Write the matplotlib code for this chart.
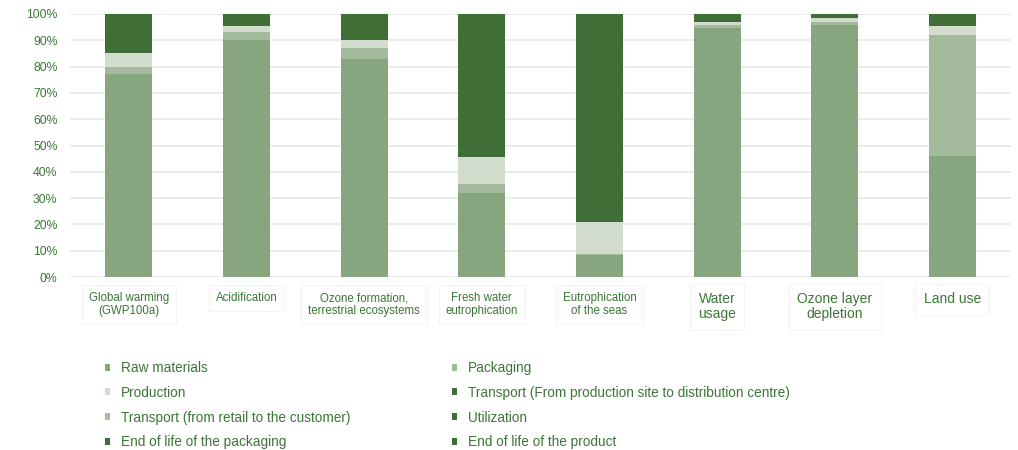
import numpy as np
import matplotlib.pyplot as plt

plt.rcParams['font.family'] = ['Liberation Sans', 'DejaVu Sans']

# categorias (eje x)
categorias = ['Global warming\n(GWP100a)', 'Acidification',
              'Ozone formation,\nterrestrial ecosystems', 'Fresh water\neutrophication',
              'Eutrophication\nof the seas', 'Water\nusage', 'Ozone layer\ndepletion', 'Land use']

# series (%), de abajo hacia arriba
raw_materials = [77, 90, 83, 32, 8.5, 94.5, 96, 46]
packaging = [3, 3, 4, 3.5, 0.3, 1.5, 1, 46]
production = [5, 2.5, 3, 10, 12, 1, 1.5, 3.5]
transport_dist = [2, 0.5, 1.5, 0.5, 0, 0.5, 0.3, 0.5]
transport_retail = [0, 0, 0, 0, 0, 0, 0, 0]
utilization = [0, 0, 0, 0, 0, 0, 0, 0]
eol_packaging = [0.5, 0, 0, 0, 0, 0, 0, 0]
eol_product = [12.5, 4, 8.5, 54, 79.2, 2.5, 1.2, 4]

nombres = ['Raw materials', 'Packaging', 'Production',
           'Transport (From production site to distribution centre)',
           'Transport (from retail to the customer)', 'Utilization',
           'End of life of the packaging', 'End of life of the product']
series = [raw_materials, packaging, production, transport_dist,
          transport_retail, utilization, eol_packaging, eol_product]
colores = ['#87a57f', '#a3ba9c', '#d1dccd', '#3f6f38',
           '#a9bba4', '#3f6f38', '#3f6f38', '#3f6e37']

texto = '#3c7637'

fig = plt.figure(figsize=(10.18, 4.5), dpi=100)
ax = fig.add_axes([0.0688, 0.3844, 0.9245, 0.5845])

x = np.arange(len(categorias))
base = np.zeros(len(categorias))
barras = []
for nombre, valores, color in zip(nombres, series, colores):
    b = ax.bar(x, valores, bottom=base, width=0.4, color=color, label=nombre,
               edgecolor='none', zorder=3)
    barras.append(b)
    base = base + np.array(valores)

ax.set_xlim(-0.5, len(categorias) - 0.5)
ax.set_ylim(0, 100)
ax.set_yticks(np.arange(0, 101, 10))
ax.set_yticklabels([f'{v}%' for v in range(0, 101, 10)])
ax.yaxis.grid(True, color='#e4ebe2', linewidth=1.2, zorder=0)
ax.set_axisbelow(True)
for s in ax.spines.values():
    s.set_visible(False)
ax.tick_params(axis='y', length=0, pad=9, labelsize=8.8, labelcolor=texto)

ax.set_xticks(x)
ax.set_xticklabels(categorias)
ax.tick_params(axis='x', length=0, pad=11, labelcolor=texto)
tamanos = [8.3, 8.3, 8.3, 8.3, 8.3, 10, 10, 10]
for lbl, t in zip(ax.get_xticklabels(), tamanos):
    lbl.set_fontsize(t)
    lbl.set_va('top')
    lbl.set_linespacing(1.1)
    lbl.set_bbox(dict(boxstyle='square,pad=0.6', facecolor='none',
                      edgecolor='#f3f4f3', linewidth=0.8))

# leyenda en dos columnas
orden_izq = [0, 2, 4, 6]
orden_der = [1, 3, 5, 7]
for orden, xpos in [(orden_izq, 105 / 1018), (orden_der, 452 / 1018)]:
    fig.legend([barras[i] for i in orden], [nombres[i] for i in orden],
               loc='upper left', bbox_to_anchor=(xpos, 1 - 361 / 450),
               frameon=False, fontsize=9.8, handlelength=0.4, handleheight=0.4,
               handletextpad=0.8, labelspacing=0.79, labelcolor=texto,
               borderaxespad=0, borderpad=0)

fig.savefig('out.png', dpi=100)
